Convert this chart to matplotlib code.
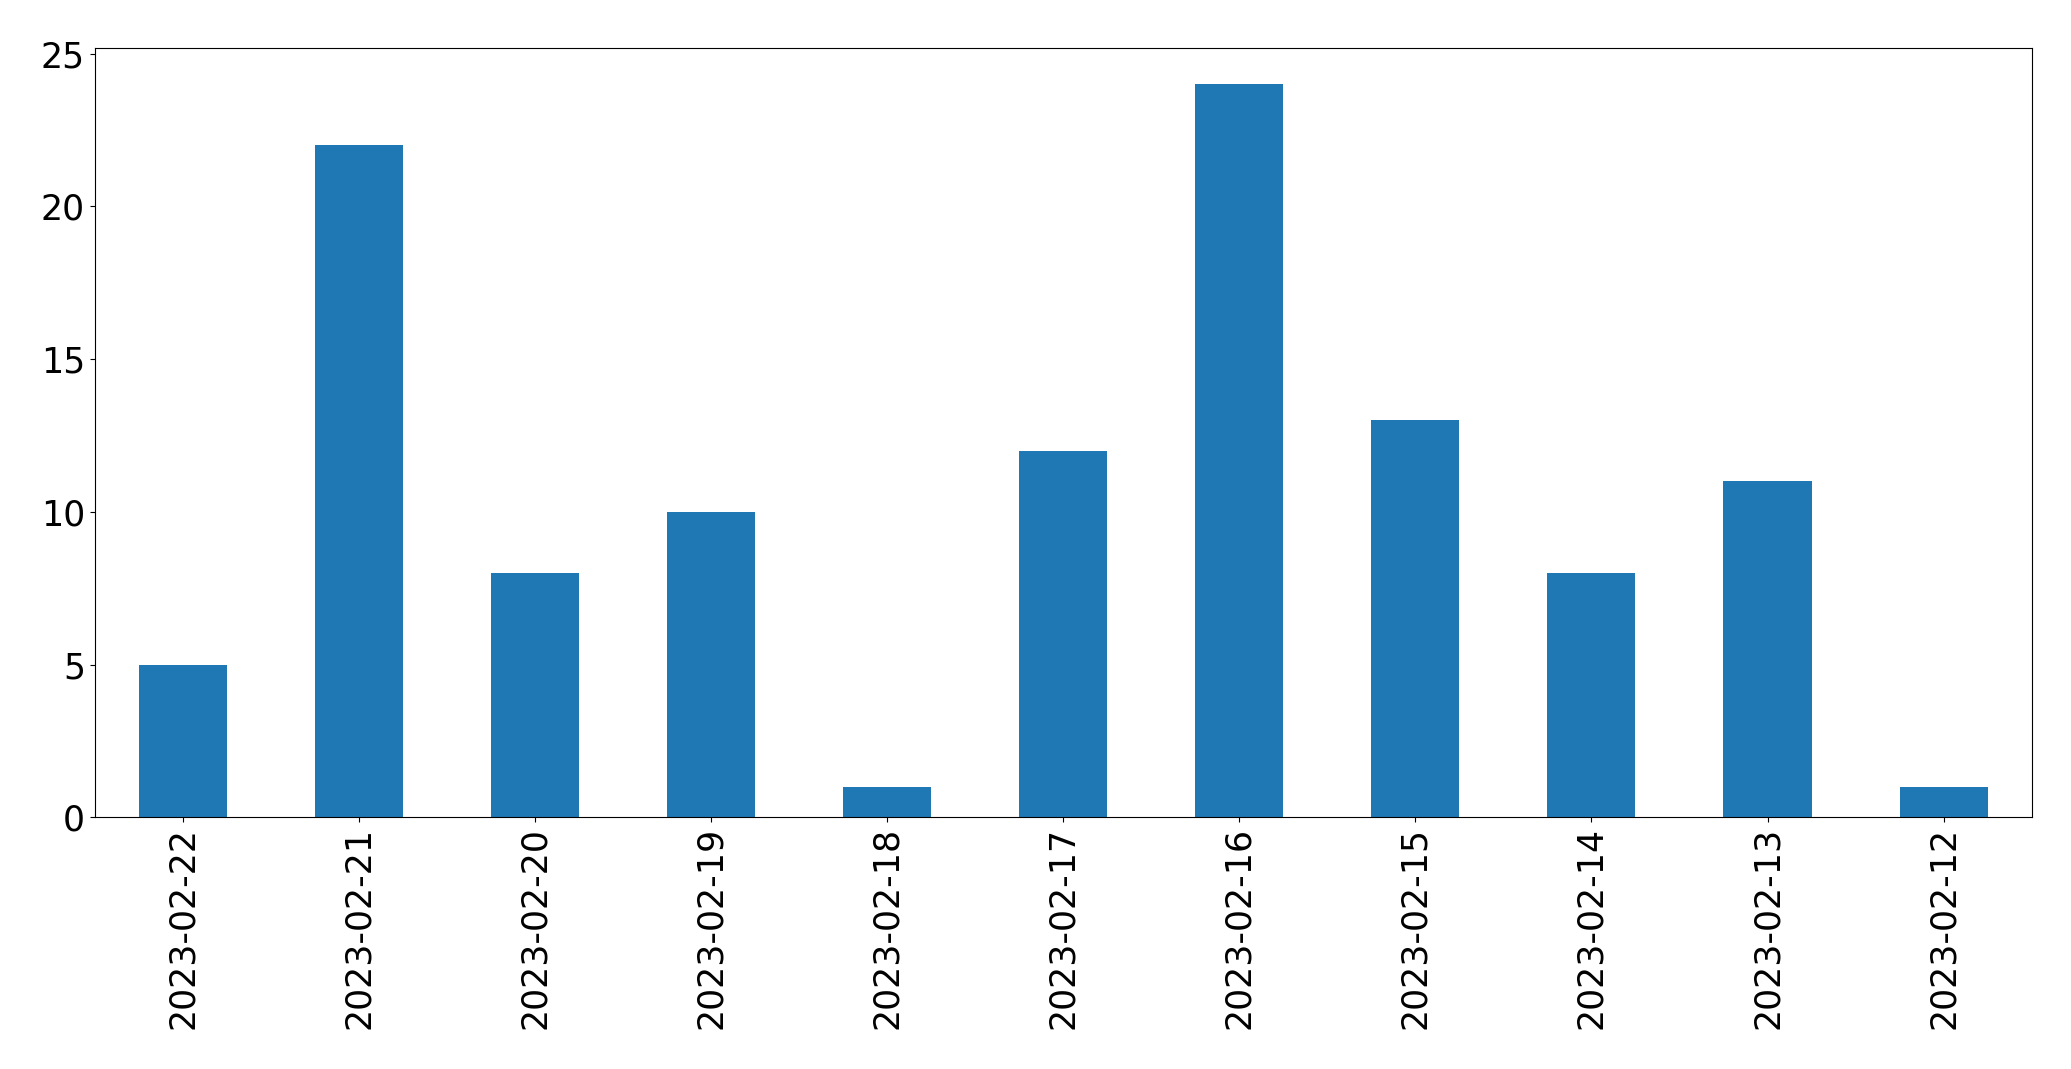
import matplotlib
matplotlib.use("Agg")
import matplotlib.pyplot as plt

dates = ["2023-02-22", "2023-02-21", "2023-02-20", "2023-02-19", "2023-02-18",
         "2023-02-17", "2023-02-16", "2023-02-15", "2023-02-14", "2023-02-13",
         "2023-02-12"]
counts = [5, 22, 8, 10, 1, 12, 24, 13, 8, 11, 1]

fig = plt.figure(figsize=(20.71, 10.69), dpi=100)
ax = fig.add_axes([0.0457, 0.2355, 0.9353, 0.7199])

xs = range(len(dates))
ax.bar(xs, counts, width=0.5, color="#1f77b4")
ax.set_xlim(-0.5, len(dates) - 0.5)
ax.set_ylim(0, 25.2)
ax.set_yticks([0, 5, 10, 15, 20, 25])
ax.set_xticks(list(xs))
ax.set_xticklabels(dates, rotation=90)
ax.tick_params(axis="both", labelsize=25)

fig.savefig("out.png", dpi=100)
